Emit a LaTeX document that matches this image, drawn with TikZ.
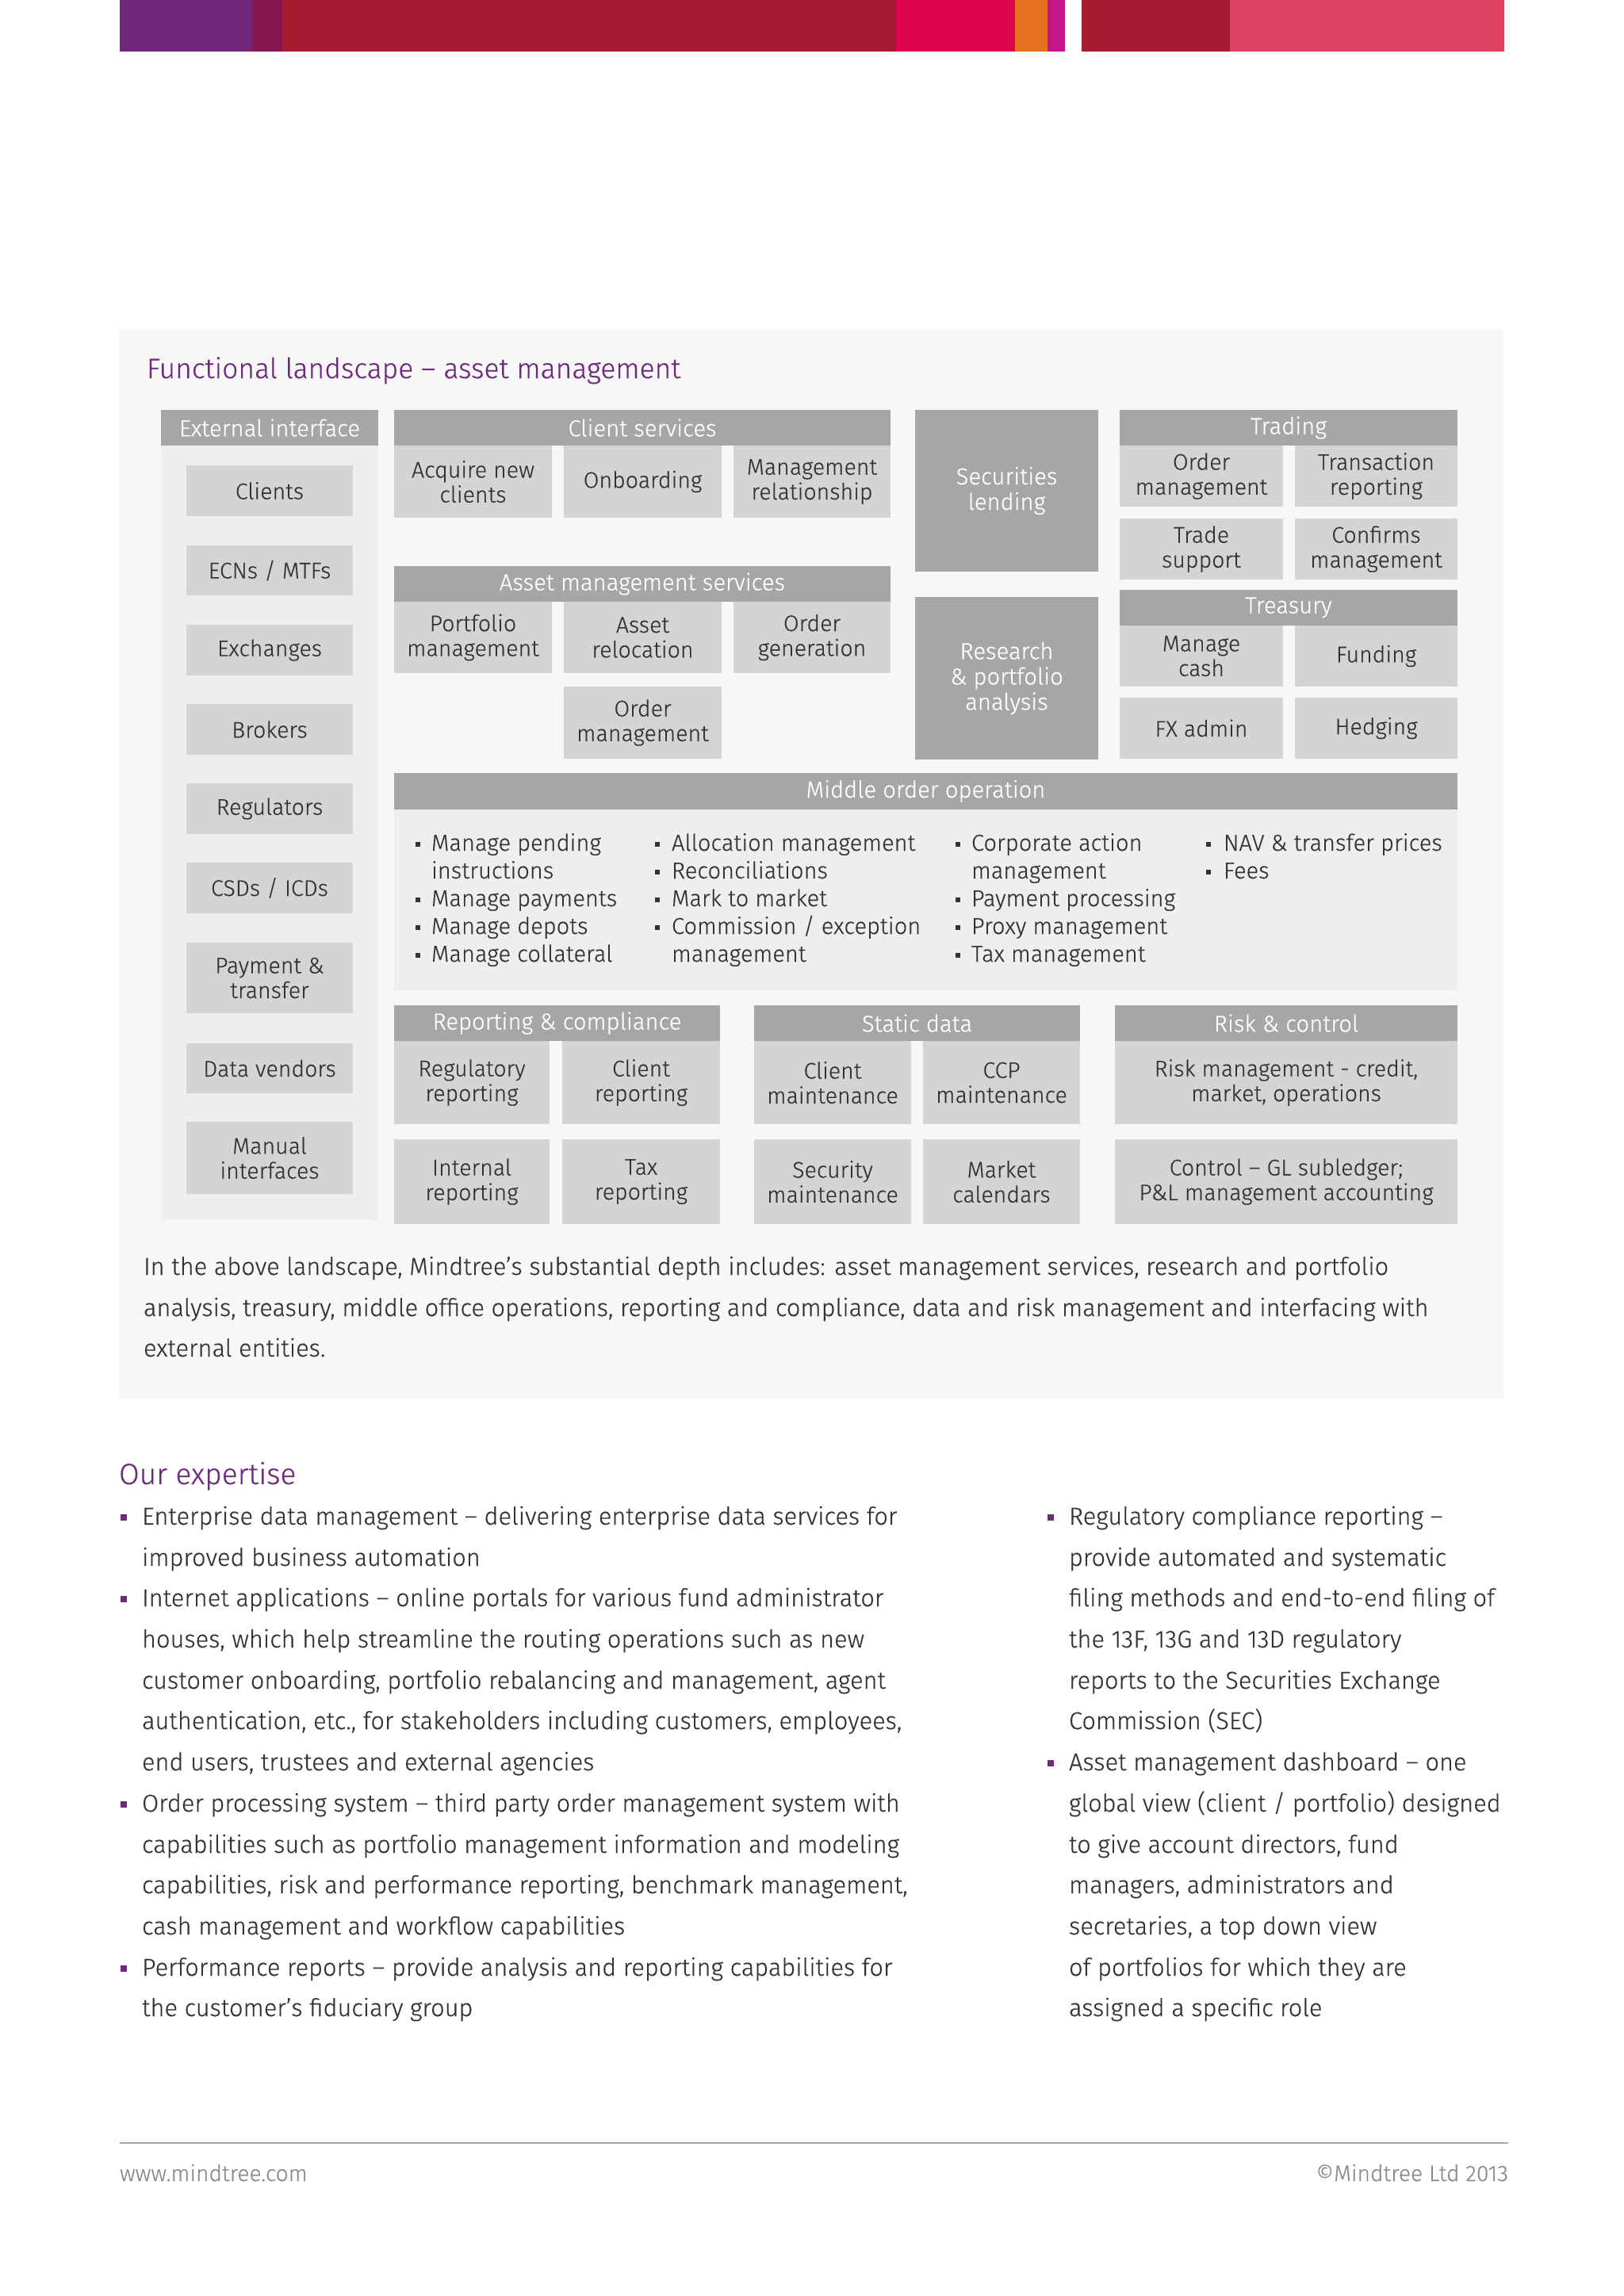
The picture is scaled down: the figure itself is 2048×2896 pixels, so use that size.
\documentclass[tikz,border=0pt]{standalone}
\usepackage{fontspec}
\setmainfont{Fira Sans Light}[FakeBold=0.35]
\definecolor{hdr}{HTML}{A6A6A8}
\definecolor{itm}{HTML}{D4D4D6}
\definecolor{colbg}{HTML}{EEEEF0}
\definecolor{panel}{HTML}{F7F7F8}
\definecolor{txt}{HTML}{333333}
\definecolor{purp}{HTML}{6E2A7E}
\definecolor{footg}{HTML}{8A8A8A}
\definecolor{cA}{HTML}{71267D}
\definecolor{cB}{HTML}{82174F}
\definecolor{cC}{HTML}{A51B2F}
\definecolor{cD}{HTML}{E0064E}
\definecolor{cE}{HTML}{E67020}
\definecolor{cF}{HTML}{C3168A}
\definecolor{cG}{HTML}{E04262}
\newcommand\bx[7]{\node[#2, minimum width={(#5-#3)*0.2907pt}, minimum height={(#6-#4)*0.2907pt}] (#1) at ({(#3+#5)/2},{(#4+#6)/2}) {#7};}
\tikzset{
  base/.style={inner sep=0pt, outer sep=0pt, align=center},
  hbox/.style={base, fill=hdr, text=white, font=\fontsize{8.5}{9.3}\selectfont},
  ibox/.style={base, fill=itm, text=txt, font=\fontsize{8.3}{9.1}\selectfont},
  bgbox/.style={base, fill=colbg},
  ptxt/.style={inner sep=0pt, outer sep=0pt, anchor=base west, text=txt, font=\fontsize{8.95}{15}\selectfont},
  mtxt/.style={inner sep=0pt, outer sep=0pt, anchor=base west, text=txt, font=\fontsize{8.45}{10}\selectfont},
  ttl/.style={inner sep=0pt, outer sep=0pt, anchor=base west, text=purp, font=\fontsize{10.3}{13}\selectfont},
  ttlb/.style={ttl, font=\fontsize{10.8}{13}\selectfont},
  ftxt/.style={inner sep=0pt, outer sep=0pt, text=footg, font=\fontsize{8.2}{10}\selectfont},
}
\begin{document}
\begin{tikzpicture}[x=0.2907pt,y=-0.2907pt]
\useasboundingbox (0,0) rectangle (2048,2896);
\fill[white] (0,0) rectangle (2048,2896);
% top colour bar
\fill[cA] (151,0) rectangle (318,65);
\fill[cB] (318,0) rectangle (355,65);
\fill[cC] (355,0) rectangle (1130,65);
\fill[cD] (1130,0) rectangle (1280,65);
\fill[cE] (1280,0) rectangle (1321,65);
\fill[cF] (1321,0) rectangle (1343,65);
\fill[cC] (1364,0) rectangle (1551,65);
\fill[cG] (1551,0) rectangle (1897,65);
% panel
\fill[panel] (150,414) rectangle (1896,1764);
\node[ttl] (title) at (185,477) {Functional landscape -- asset management};
% external interface
\bx{exth}{hbox}{203}{517}{477}{562}{External interface}
\bx{extbg}{bgbox}{203}{562}{477}{1539}{}
\bx{e1}{ibox}{235}{587}{445}{651}{Clients}
\bx{e2}{ibox}{235}{688}{445}{751}{ECNs / MTFs}
\bx{e3}{ibox}{235}{788}{445}{852}{Exchanges}
\bx{e4}{ibox}{235}{888}{445}{952}{Brokers}
\bx{e5}{ibox}{235}{988}{445}{1052}{Regulators}
\bx{e6}{ibox}{235}{1088}{445}{1152}{CSDs / ICDs}
\bx{e7}{ibox}{235}{1189}{445}{1278}{Payment \&\\transfer}
\bx{e8}{ibox}{235}{1316}{445}{1379}{Data vendors}
\bx{e9}{ibox}{235}{1415}{445}{1506}{Manual\\interfaces}
% client services
\bx{csh}{hbox}{497}{517}{1123}{562}{Client services}
\bx{cs1}{ibox}{497}{562}{696}{653}{Acquire new\\clients}
\bx{cs2}{ibox}{711}{562}{910}{653}{Onboarding}
\bx{cs3}{ibox}{925}{562}{1123}{653}{Management\\relationship}
% asset management services
\bx{amh}{hbox}{497}{714}{1123}{759}{Asset management services}
\bx{am1}{ibox}{497}{759}{696}{849}{Portfolio\\management}
\bx{am2}{ibox}{711}{759}{910}{849}{Asset\\relocation}
\bx{am3}{ibox}{925}{759}{1123}{849}{Order\\generation}
\bx{am4}{ibox}{711}{866}{910}{957}{Order\\management}
% securities / research
\bx{sl}{hbox}{1154}{517}{1385}{721}{Securities\\lending}
\bx{rp}{hbox}{1154}{753}{1385}{958}{Research\\\& portfolio\\analysis}
% trading
\bx{trh}{hbox}{1412}{517}{1838}{562}{Trading}
\bx{tr1}{ibox}{1412}{562}{1618}{639}{Order\\management}
\bx{tr2}{ibox}{1633}{562}{1838}{639}{Transaction\\reporting}
\bx{tr3}{ibox}{1412}{654}{1618}{731}{Trade\\support}
\bx{tr4}{ibox}{1633}{654}{1838}{731}{Confirms\\management}
% treasury
\bx{tyh}{hbox}{1412}{744}{1838}{789}{Treasury}
\bx{ty1}{ibox}{1412}{789}{1618}{866}{Manage\\cash}
\bx{ty2}{ibox}{1633}{789}{1838}{866}{Funding}
\bx{ty3}{ibox}{1412}{880}{1618}{957}{FX admin}
\bx{ty4}{ibox}{1633}{880}{1838}{957}{Hedging}
% middle order operation
\bx{moh}{hbox}{497}{975}{1838}{1021}{Middle order operation}
\bx{mob}{bgbox}{497}{1021}{1838}{1249}{}
\foreach \bxx/\byy in {527/1073,527/1143,527/1178,527/1213,
  829/1073,829/1108,829/1143,829/1178,
  1208/1073,1208/1143,1208/1178,1208/1213,
  1524/1073,1524/1108}{
  \fill[txt] (\bxx-3,\byy-11) rectangle (\bxx+3,\byy-5);
}
\node[mtxt] (m11) at (544,1073) {Manage pending};
\node[mtxt] (m12) at (544,1108) {instructions};
\node[mtxt] (m13) at (544,1143) {Manage payments};
\node[mtxt] (m14) at (544,1178) {Manage depots};
\node[mtxt] (m15) at (544,1213) {Manage collateral};
\node[mtxt] (m21) at (847,1073) {Allocation management};
\node[mtxt] (m22) at (847,1108) {Reconciliations};
\node[mtxt] (m23) at (847,1143) {Mark to market};
\node[mtxt] (m24) at (847,1178) {Commission / exception};
\node[mtxt] (m25) at (847,1213) {management};
\node[mtxt] (m31) at (1225,1073) {Corporate action};
\node[mtxt] (m32) at (1225,1108) {management};
\node[mtxt] (m33) at (1225,1143) {Payment processing};
\node[mtxt] (m34) at (1225,1178) {Proxy management};
\node[mtxt] (m35) at (1225,1213) {Tax management};
\node[mtxt] (m41) at (1543,1073) {NAV \& transfer prices};
\node[mtxt] (m42) at (1543,1108) {Fees};
% reporting & compliance
\bx{rch}{hbox}{497}{1268}{908}{1313}{Reporting \& compliance}
\bx{rc1}{ibox}{497}{1313}{693}{1418}{Regulatory\\reporting}
\bx{rc2}{ibox}{709}{1313}{908}{1418}{Client\\reporting}
\bx{rc3}{ibox}{497}{1437}{693}{1544}{Internal\\reporting}
\bx{rc4}{ibox}{709}{1437}{908}{1544}{Tax\\reporting}
% static data
\bx{sdh}{hbox}{951}{1268}{1362}{1313}{Static data}
\bx{sd1}{ibox}{951}{1313}{1149}{1418}{Client\\maintenance}
\bx{sd2}{ibox}{1164}{1313}{1362}{1418}{CCP\\maintenance}
\bx{sd3}{ibox}{951}{1437}{1149}{1544}{Security\\maintenance}
\bx{sd4}{ibox}{1164}{1437}{1362}{1544}{Market\\calendars}
% risk & control
\bx{rkh}{hbox}{1406}{1268}{1838}{1313}{Risk \& control}
\bx{rk1}{ibox}{1406}{1313}{1838}{1418}{Risk management - credit,\\market, operations}
\bx{rk2}{ibox}{1406}{1437}{1838}{1544}{Control -- GL subledger;\\P\&L management accounting}
% paragraph
\node[ptxt] (pa1) at (181,1608) {In the above landscape, Mindtree's substantial depth includes: asset management services, research and portfolio};
\node[ptxt] (pa2) at (181,1660) {analysis, treasury, middle office operations, reporting and compliance, data and risk management and interfacing with};
\node[ptxt] (pa3) at (181,1711) {external entities.};
% our expertise
\node[ttlb] (oe) at (150,1872) {Our expertise};
\foreach \bxx/\byy in {156/1923,156/2026,156/2285,156/2492,1325/1923,1325/2233}{
  \fill[purp] (\bxx-4,\byy-13) rectangle (\bxx+4,\byy-5);
}
\node[ptxt] (l1) at (179,1923) {Enterprise data management -- delivering enterprise data services for};
\node[ptxt] (l2) at (179,1975) {improved business automation};
\node[ptxt] (l3) at (179,2026) {Internet applications -- online portals for various fund administrator};
\node[ptxt] (l4) at (179,2078) {houses, which help streamline the routing operations such as new};
\node[ptxt] (l5) at (179,2130) {customer onboarding, portfolio rebalancing and management, agent};
\node[ptxt] (l6) at (179,2181) {authentication, etc., for stakeholders including customers, employees,};
\node[ptxt] (l7) at (179,2233) {end users, trustees and external agencies};
\node[ptxt] (l8) at (179,2285) {Order processing system -- third party order management system with};
\node[ptxt] (l9) at (179,2337) {capabilities such as portfolio management information and modeling};
\node[ptxt] (l10) at (179,2388) {capabilities, risk and performance reporting, benchmark management,};
\node[ptxt] (l11) at (179,2440) {cash management and workflow capabilities};
\node[ptxt] (l12) at (179,2492) {Performance reports -- provide analysis and reporting capabilities for};
\node[ptxt] (l13) at (179,2543) {the customer’s fiduciary group};
\node[ptxt] (r1) at (1348,1923) {Regulatory compliance reporting --};
\node[ptxt] (r2) at (1348,1975) {provide automated and systematic};
\node[ptxt] (r3) at (1348,2026) {filing methods and end-to-end filing of};
\node[ptxt] (r4) at (1348,2078) {the 13F, 13G and 13D regulatory};
\node[ptxt] (r5) at (1348,2130) {reports to the Securities Exchange};
\node[ptxt] (r6) at (1348,2181) {Commission (SEC)};
\node[ptxt] (r7) at (1348,2233) {Asset management dashboard -- one};
\node[ptxt] (r8) at (1348,2285) {global view (client / portfolio) designed};
\node[ptxt] (r9) at (1348,2337) {to give account directors, fund};
\node[ptxt] (r10) at (1348,2388) {managers, administrators and};
\node[ptxt] (r11) at (1348,2440) {secretaries, a top down view};
\node[ptxt] (r12) at (1348,2492) {of portfolios for which they are};
\node[ptxt] (r13) at (1348,2543) {assigned a specific role};
% footer
\coordinate (fl) at (151,2703);
\coordinate (fr) at (1902,2703);
\draw[line width=0.8pt, color=hdr] (fl) -- (fr);
\node[ftxt, anchor=base west] (f1) at (151,2751) {www.mindtree.com};
\node[ftxt, anchor=base east] (f2) at (1902,2751) {©Mindtree Ltd 2013};
\end{tikzpicture}
\end{document}
